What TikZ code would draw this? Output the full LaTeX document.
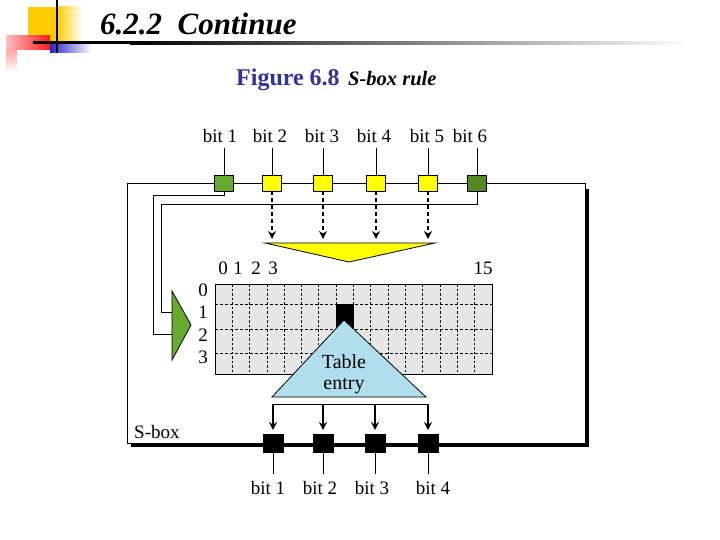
\documentclass[tikz,border=0pt]{standalone}
\usepackage{fontspec}
\setmainfont{Liberation Serif}
\usetikzlibrary{arrows.meta,calc}
\definecolor{capblue}{RGB}{51,51,153}
\definecolor{decoyellow}{RGB}{255,204,0}
\definecolor{boxgreen}{RGB}{104,170,45}
\definecolor{boxyellow}{RGB}{255,255,0}
\definecolor{gridgray}{RGB}{230,230,230}
\definecolor{entryblue}{RGB}{176,222,236}
\definecolor{decoblue}{RGB}{40,40,200}
\tikzset{
  lbl/.style={font=\fontsize{19}{22}\selectfont, inner sep=0pt},
  inbit/.style={draw=black, line width=0.8pt, minimum width=19pt, minimum height=16pt, inner sep=0pt},
  outbit/.style={fill=black, draw=black, minimum width=20pt, minimum height=18pt, inner sep=0pt},
  wire/.style={line width=0.8pt},
  darr/.style={line width=1.2pt, dashed, dash pattern=on 4pt off 3pt, -{Stealth[length=8pt,width=8pt]}},
  sarr/.style={line width=1.2pt, -{Stealth[length=8pt,width=8pt]}},
}
\begin{document}
\begin{tikzpicture}[x=1pt,y=-1pt]
\useasboundingbox (0,0) rectangle (720,540);
% ---- decoration
\shade[left color=decoyellow, right color=white] (57,7) rectangle (82,42);
\fill[decoyellow] (28,7) rectangle (57,42);
\shade[top color=red!35, bottom color=white] (6,50) rectangle (17,72);
\shade[left color=red!25, right color=red!90] (6,36) rectangle (50,50);
\shade[left color=decoblue, right color=white] (50,43) rectangle (92,53);
\fill[black] (33,41.5) rectangle (130,44.5);
\shade[left color=black, middle color=black!35, right color=white] (130,41.5) rectangle (690,44.5);
\draw[line width=2.5pt] (57,0) -- (57,53);
% ---- title and caption
\node[anchor=base west, inner sep=0pt, font=\fontsize{31}{34}\selectfont\bfseries\itshape] (title) at (100,35) {6.2.2\ \ Continue};
\node[anchor=base west, inner sep=0pt, text=capblue, font=\fontsize{24}{27}\selectfont\bfseries] (cap) at (236,86) {Figure 6.8};
\node[anchor=base west, inner sep=0pt, font=\fontsize{20.5}{22}\selectfont\bfseries\itshape] (capb) at (348,86) {S-box rule};
% ---- outer S-box frame
\draw[line width=2.6pt] (587.5,189) -- (587.5,445.5) -- (131,445.5);
\draw[wire] (127,183) rectangle (585,443);
\node[lbl, anchor=base west] (sbox) at (134,438) {S-box};
% ---- table grid
\fill[gridgray] (215,284) rectangle (492,374);
\foreach \k in {1,...,15} {
  \draw[line width=0.8pt, dash pattern=on 2.5pt off 2pt] ({215+\k*17.3125},284) -- ({215+\k*17.3125},374);
}
\foreach \yy in {304,329,353} {
  \draw[line width=0.8pt, dash pattern=on 3pt off 2pt] (215,\yy) -- (492,\yy);
}
\fill[black] (336.2,304) rectangle (353.5,329);
\draw[line width=0.8pt] (215,284) rectangle (492,374);
% column and row labels
\node[lbl, anchor=base] (c0) at (223,274) {0};
\node[lbl, anchor=base] (c1) at (238,274) {1};
\node[lbl, anchor=base] (c2) at (256,274) {2};
\node[lbl, anchor=base] (c3) at (273,274) {3};
\node[lbl, anchor=base] (c15) at (483,274) {15};
\node[lbl] (r0) at (203,290) {0};
\node[lbl] (r1) at (203,312) {1};
\node[lbl] (r2) at (203,335) {2};
\node[lbl] (r3) at (203,357) {3};
% ---- green row selector
\draw[line width=0.8pt, fill=boxgreen] (172,291) -- (191,325) -- (172,360) -- cycle;
\coordinate (selA) at (172,312);
\coordinate (selB) at (172,334);
% ---- yellow column selector
\draw[line width=0.8pt, fill=boxyellow] (265,243) -- (435,243) -- (349,262) -- cycle;
% ---- table entry triangle
\draw[line width=0.8pt, fill=entryblue] (344,320) -- (426,397) -- (272,397) -- cycle;
\node[font=\fontsize{20}{22}\selectfont, inner sep=0pt, align=center, anchor=base] (entry) at (344,389) {Table\\[-1pt]entry};
% ---- input bits
\foreach \i/\xx in {1/220,2/270,3/322,4/374,5/427,6/470} {
  \node[lbl, anchor=base] (li\i) at (\xx,143) {bit \i};
}
\node[inbit, fill=boxgreen] (t1) at (224,183) {};
\node[inbit, fill=boxyellow] (t2) at (272,183) {};
\node[inbit, fill=boxyellow] (t3) at (323,183) {};
\node[inbit, fill=boxyellow] (t4) at (376,183) {};
\node[inbit, fill=boxyellow] (t5) at (428,183) {};
\node[inbit, fill=boxgreen!80!black] (t6) at (477,183) {};
\foreach \i in {1,...,6} {
  \draw[wire] (t\i.north) -- (t\i.north |- 0,148);
}
% dashed arrows to column selector
\foreach \i in {2,...,5} {
  \draw[darr] (t\i.south) -- (t\i.south |- 0,239);
}
% wires of bit 1 and bit 6 to row selector
\draw[wire] (t1.south) |- (153,195) |- (selB);
\draw[wire] (t6.south) |- (161,204) |- (selA);
% ---- output bits
\node[outbit] (b1) at (273,443) {};
\node[outbit] (b2) at (323,443) {};
\node[outbit] (b3) at (375,443) {};
\node[outbit] (b4) at (428,443) {};
\draw[wire] (b1.north |- 0,404) -- (b4.north |- 0,404);
\foreach \i in {1,...,4} {
  \draw[sarr] (b\i.north |- 0,404) -- (b\i.north |- 0,430);
  \draw[wire] (b\i.south) -- (b\i.south |- 0,474);
}
\node[lbl, anchor=base] (lo1) at (268,494) {bit 1};
\node[lbl, anchor=base] (lo2) at (320,494) {bit 2};
\node[lbl, anchor=base] (lo3) at (372,494) {bit 3};
\node[lbl, anchor=base] (lo4) at (433,494) {bit 4};
\end{tikzpicture}
\end{document}
